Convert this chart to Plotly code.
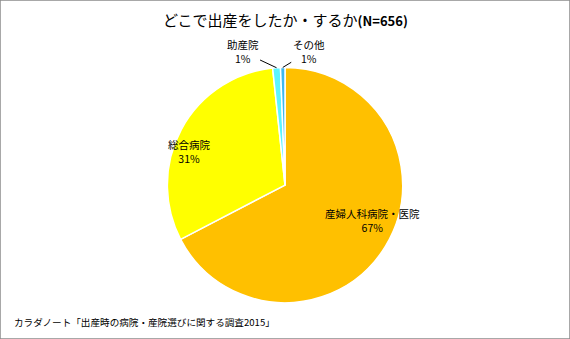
import math
import plotly.graph_objects as go

# Survey answers (N=656)
labels = ["産婦人科病院・医院", "総合病院", "助産院", "その他"]
counts = [442, 203, 7, 4]
colors = ["#FFC000", "#FFFF00", "#5CF5FF", "#3FB8F0"]

title_main = "どこで出産をしたか・するか"
title_n = "(N=656)"
source_note = "カラダノート「出産時の病院・産院選びに関する調査2015」"

JP = "Noto Sans CJK JP"
W, H = 570, 339

# pie placement (paper fractions)
dom_x = [0.2, 0.8]
dom_y = [0.107, 0.801]

fig = go.Figure(
    go.Pie(
        labels=labels,
        values=counts,
        sort=False,
        direction="clockwise",
        rotation=0,
        marker=dict(colors=colors, line=dict(color="white", width=1.5)),
        textposition="none",
        showlegend=False,
        domain=dict(x=dom_x, y=dom_y),
        hoverinfo="label+value+percent",
    )
)

# geometry of the pie in pixels, used to place the slice labels
cx = (dom_x[0] + dom_x[1]) / 2 * W
cy_up = (dom_y[0] + dom_y[1]) / 2 * H
radius = min((dom_x[1] - dom_x[0]) * W, (dom_y[1] - dom_y[0]) * H) / 2
total = sum(counts)


def slice_point(i, frac, shift_deg=0.0):
    start = sum(counts[:i])
    ang = math.radians((start + counts[i] / 2) / total * 360 + shift_deg)
    px = cx + frac * radius * math.sin(ang)
    py = cy_up + frac * radius * math.cos(ang)
    return px / W, py / H


def label_text(i):
    pct = round(counts[i] / total * 100)
    return f"{labels[i]}<br>{pct}%"


# large slices: labels inside the slice (radial fraction, angular nudge)
inside_place = {0: (0.80, -9), 1: (0.86, -9)}
for i, (frac, shift) in inside_place.items():
    x, y = slice_point(i, frac, shift)
    fig.add_annotation(
        text=label_text(i), x=x, y=y, xref="paper", yref="paper",
        showarrow=False, xanchor="center", yanchor="middle",
        font=dict(family=JP, size=10.5, color="black"),
    )

# thin slices: labels above the pie with leader lines
offsets = {2: (-34, -16), 3: (26, -16)}
for i, (ax, ay) in offsets.items():
    x, y = slice_point(i, 1.0)
    fig.add_annotation(
        text=label_text(i), x=x, y=y, xref="paper", yref="paper",
        showarrow=True, arrowhead=0, arrowwidth=1, arrowcolor="black",
        ax=ax, ay=ay, axref="pixel", ayref="pixel",
        font=dict(family=JP, size=10.5, color="black"),
    )

fig.add_annotation(
    text=f"{title_main}<b><span style='font-size:13px'>{title_n}</span></b>",
    x=0.5, y=1 - 20 / H, xref="paper", yref="paper",
    xanchor="center", yanchor="middle", showarrow=False,
    font=dict(family=JP, size=15, color="black"),
)
fig.add_annotation(
    text=source_note,
    x=12 / W, y=1 - 322 / H, xref="paper", yref="paper",
    xanchor="left", yanchor="middle", showarrow=False,
    font=dict(family=JP, size=9.6, color="black"),
)
# chart frame
fig.add_shape(
    type="rect", xref="paper", yref="paper", x0=0, y0=0, x1=1, y1=1,
    line=dict(color="#8C8C8C", width=1.5), fillcolor="rgba(0,0,0,0)",
)

fig.update_layout(
    width=W, height=H,
    margin=dict(l=0, r=0, t=0, b=0),
    paper_bgcolor="white",
    plot_bgcolor="white",
)

fig.write_html("out.html")
